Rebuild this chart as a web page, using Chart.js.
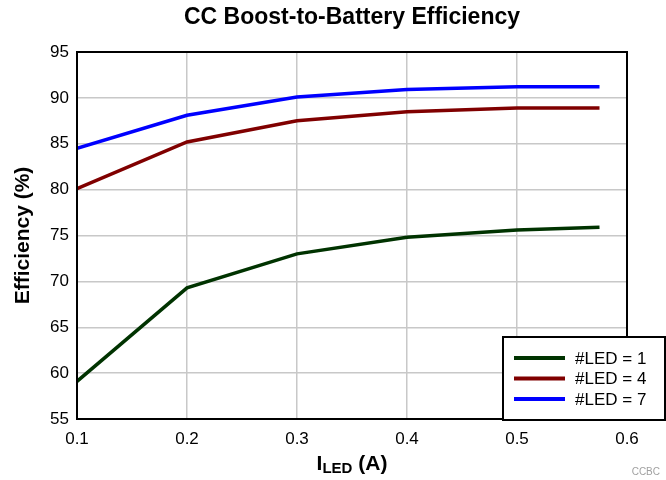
<!DOCTYPE html>
<html>
<head>
<meta charset="utf-8">
<script src="https://cdn.jsdelivr.net/npm/chart.js@4.4.1/dist/chart.umd.min.js"></script>
<style>
  html, body { margin: 0; padding: 0; background: #fff; }
  #wrap { width: 666px; height: 480px; }
</style>
</head>
<body>
<div id="wrap"><canvas id="effChart" width="666" height="480"></canvas></div>
<script>
// LED current (A) and efficiency (%) per LED count
const iLed = [0.1, 0.2, 0.3, 0.4, 0.5, 0.575];
const eff1Led = [59.1, 69.3, 73.0, 74.8, 75.6, 75.9];
const eff4Led = [80.1, 85.2, 87.5, 88.5, 88.9, 88.9];
const eff7Led = [84.5, 88.1, 90.1, 90.9, 91.2, 91.2];
const seriesLabels = ['#LED = 1', '#LED = 4', '#LED = 7'];
const seriesColors = ['#003300', '#800000', '#0000ff'];

const FONT = 'Arial, "Liberation Sans", Helvetica, sans-serif';

function toPoints(ys) {
    return iLed.map((x, i) => ({ x: x, y: ys[i] }));
}

// Title, frame, x-axis title with subscript, legend box and footer tag
const decorations = {
    id: 'decorations',
    afterDraw(chart) {
        const ctx = chart.ctx;
        const a = chart.chartArea;
        ctx.save();

        // plot frame
        ctx.strokeStyle = '#000';
        ctx.lineWidth = 2;
        ctx.strokeRect(a.left, a.top, a.right - a.left, a.bottom - a.top);

        // main title
        ctx.fillStyle = '#000';
        ctx.textAlign = 'center';
        ctx.textBaseline = 'middle';
        ctx.font = 'bold 23px ' + FONT;
        ctx.fillText('CC Boost-to-Battery Efficiency', (a.left + a.right) / 2, 18);

        // y-axis title
        ctx.save();
        ctx.translate(23, (a.top + a.bottom) / 2);
        ctx.rotate(-Math.PI / 2);
        ctx.font = 'bold 21px ' + FONT;
        ctx.fillText('Efficiency (%)', 0, 0);
        ctx.restore();

        // x-axis title: I_LED (A)
        const cx = (a.left + a.right) / 2;
        const ty = 464;
        ctx.textAlign = 'left';
        ctx.font = 'bold 21px ' + FONT;
        const wI = ctx.measureText('I').width;
        const wRest = ctx.measureText(' (A)').width;
        ctx.font = 'bold 15px ' + FONT;
        const wSub = ctx.measureText('LED').width;
        let x0 = cx - (wI + wSub + wRest) / 2;
        ctx.font = 'bold 21px ' + FONT;
        ctx.fillText('I', x0, ty);
        ctx.font = 'bold 15px ' + FONT;
        ctx.fillText('LED', x0 + wI, ty + 5);
        ctx.font = 'bold 21px ' + FONT;
        ctx.fillText(' (A)', x0 + wI + wSub, ty);

        // legend box
        const lx = 503, ly = 337, lw = 162, lh = 83;
        ctx.fillStyle = '#fff';
        ctx.fillRect(lx, ly, lw, lh);
        ctx.strokeStyle = '#000';
        ctx.lineWidth = 2;
        ctx.strokeRect(lx, ly, lw, lh);
        ctx.font = '17px ' + FONT;
        ctx.textBaseline = 'middle';
        seriesLabels.forEach((label, i) => {
            const yy = ly + 21 + i * 20.5;
            ctx.strokeStyle = seriesColors[i];
            ctx.lineWidth = 4;
            ctx.beginPath();
            ctx.moveTo(514, yy);
            ctx.lineTo(565, yy);
            ctx.stroke();
            ctx.fillStyle = '#000';
            ctx.fillText(label, 575, yy + 1);
        });

        // footer tag
        ctx.font = '10px ' + FONT;
        ctx.fillStyle = '#a0a0a0';
        ctx.textAlign = 'right';
        ctx.fillText('CCBC', 660, 472);

        ctx.restore();
    }
};

new Chart(document.getElementById('effChart'), {
    type: 'line',
    data: {
        datasets: [
            { label: seriesLabels[0], data: toPoints(eff1Led), borderColor: seriesColors[0] },
            { label: seriesLabels[1], data: toPoints(eff4Led), borderColor: seriesColors[1] },
            { label: seriesLabels[2], data: toPoints(eff7Led), borderColor: seriesColors[2] }
        ]
    },
    options: {
        responsive: false,
        animation: false,
        layout: { padding: { left: 0, right: 39, top: 52, bottom: 0 } },
        elements: {
            line: { borderWidth: 3.5, tension: 0 },
            point: { radius: 0 }
        },
        plugins: {
            legend: { display: false },
            title: { display: false },
            tooltip: { enabled: false }
        },
        scales: {
            x: {
                type: 'linear',
                min: 0.1,
                max: 0.6,
                afterFit(scale) { scale.height = 61; },
                ticks: {
                    stepSize: 0.1,
                    color: '#000',
                    font: { family: FONT, size: 17 },
                    padding: 10,
                    maxRotation: 0,
                    callback: v => v.toFixed(1)
                },
                grid: { color: '#c8c8c8', lineWidth: 1.5, drawTicks: false },
                border: { display: false }
            },
            y: {
                min: 55,
                max: 95,
                afterFit(scale) { scale.width = 77; },
                ticks: {
                    stepSize: 5,
                    color: '#000',
                    font: { family: FONT, size: 17 },
                    padding: 8
                },
                grid: { color: '#c8c8c8', lineWidth: 1.5, drawTicks: false },
                border: { display: false }
            }
        }
    },
    plugins: [decorations]
});
</script>
</body>
</html>
